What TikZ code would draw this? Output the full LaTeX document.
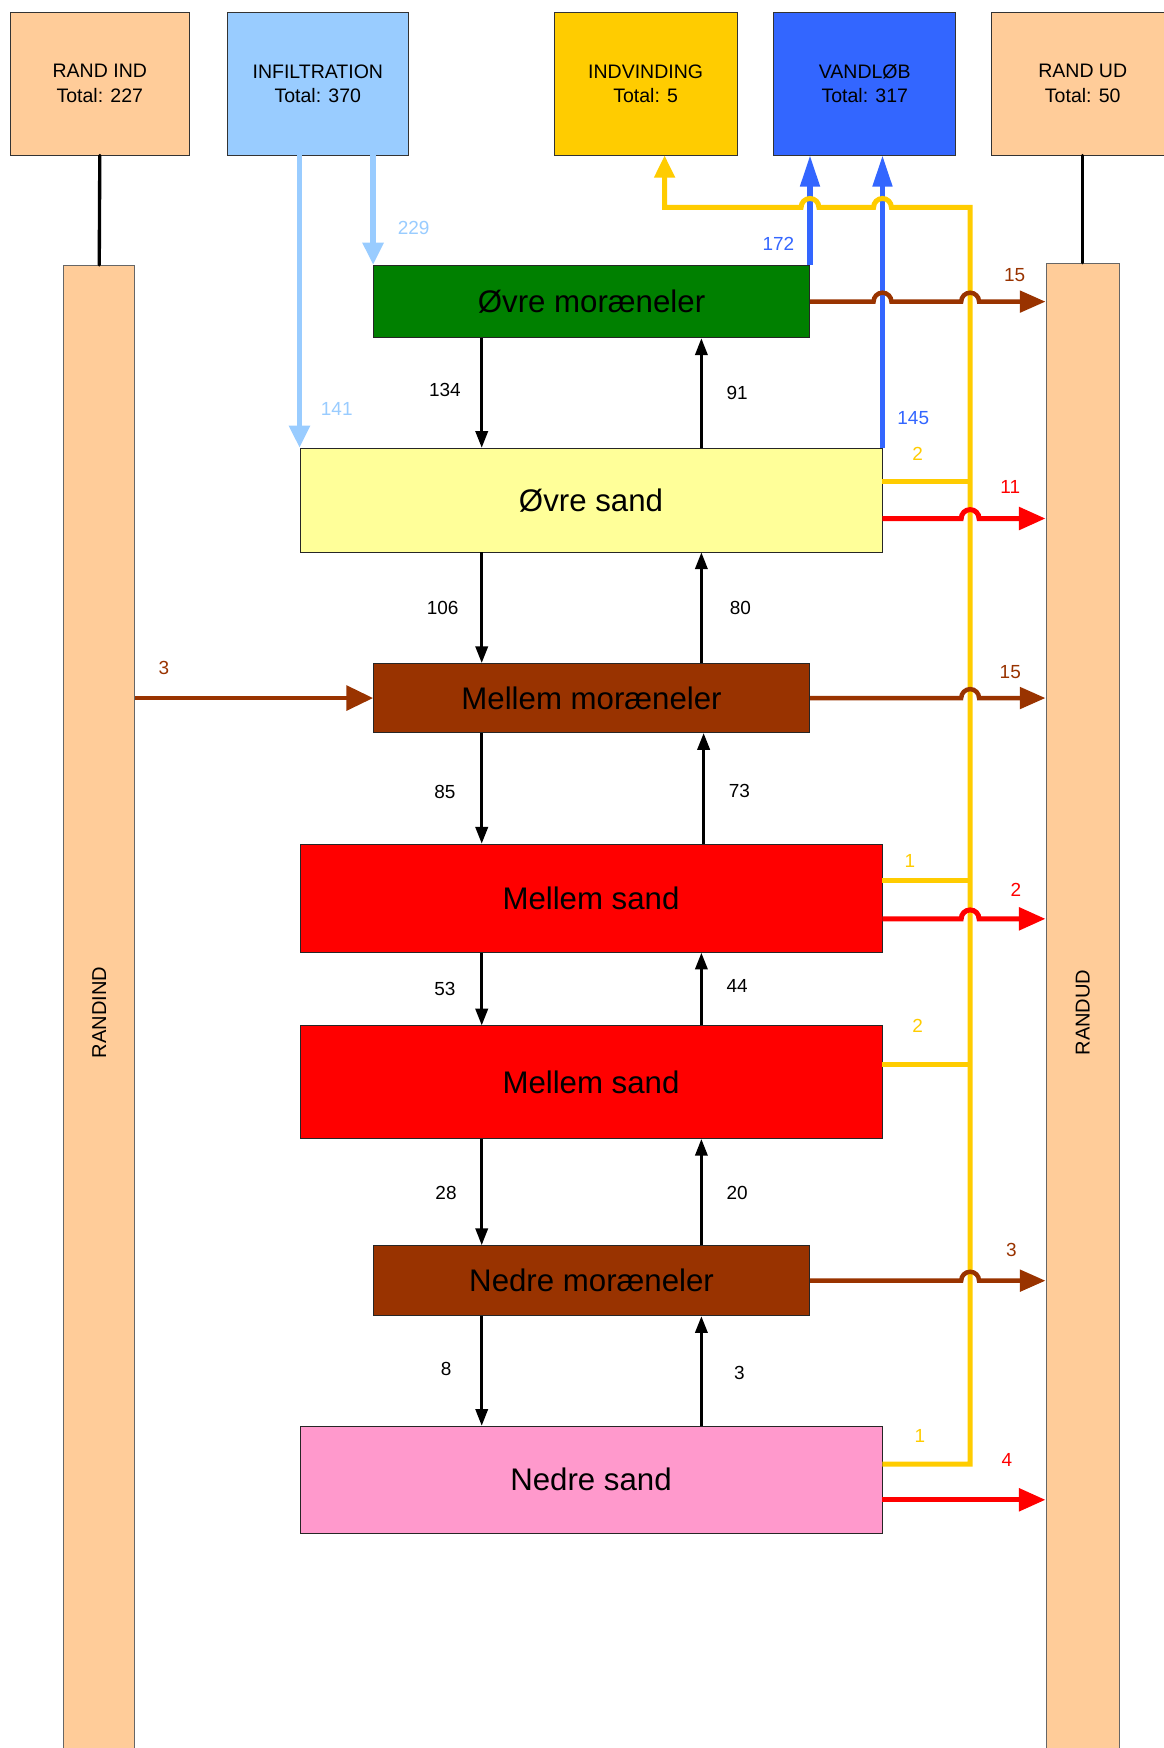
\documentclass[tikz,border=0pt]{standalone}
\usepackage{fontspec}
\setmainfont{Liberation Sans}
\usepackage{graphicx}
\usetikzlibrary{arrows.meta}
\definecolor{cpeach}{HTML}{FFCC99}
\definecolor{clblue}{HTML}{99CCFF}
\definecolor{cgold}{HTML}{FFCC00}
\definecolor{cblue}{HTML}{3366FF}
\definecolor{cgreen}{HTML}{008000}
\definecolor{cpale}{HTML}{FFFF99}
\definecolor{cbrown}{HTML}{993300}
\definecolor{cred}{HTML}{FF0000}
\definecolor{cpink}{HTML}{FF99CC}
\begin{document}
\begin{tikzpicture}[x=1pt,y=-1pt,
  topbox/.style={draw=black!80, line width=0.8pt, inner sep=0pt, minimum height=128pt, align=center, font=\fontsize{17.5}{22}\selectfont},
  bar/.style={draw=black!60, line width=0.8pt, fill=cpeach, inner sep=0pt, font=\fontsize{18}{20}\selectfont},
  lay/.style={draw=black!85, line width=0.8pt, inner sep=0pt, font=\fontsize{28}{32}\selectfont},
  num/.style={font=\fontsize{17}{19}\selectfont, inner sep=0pt},
  blk/.style={line width=2.5pt, -{Triangle[length=15pt,width=11pt]}},
  lbl/.style={draw=clblue, line width=5pt, -{Triangle[length=20pt,width=18pt]}},
  bll/.style={draw=cblue, line width=4.5pt, -{Triangle[length=28pt,width=17pt]}},
  yll/.style={draw=cgold, line width=4.5pt, line join=miter},
  brl/.style={draw=cbrown, line width=4pt, -{Triangle[length=23pt,width=19pt]}},
  rdl/.style={draw=cred, line width=4.5pt, -{Triangle[length=24pt,width=20pt]}},
  conn/.style={line width=3pt, line cap=round}
]
\useasboundingbox (0,0) rectangle (1043,1567.6);
\fill[white] (0,0) rectangle (1043,1567.6);

% top boxes
\node[topbox, fill=cpeach, minimum width=161pt] (ri) at (89.5,75) {RAND IND\\Total: 227};
\node[topbox, fill=clblue, minimum width=162pt] (inf) at (285,75) {INFILTRATION\\Total: 370};
\node[topbox, fill=cgold, minimum width=164pt] (ind) at (579,75) {INDVINDING\\Total: 5};
\node[topbox, fill=cblue, minimum width=163pt] (van) at (775.5,75) {VANDLØB\\Total: 317};
\node[topbox, fill=cpeach, minimum width=164pt] (ru) at (971,75) {RAND UD\\Total: 50};

% side bars
\node[bar, minimum width=64pt, minimum height=1340pt] (rin) at (89,908) {\rotatebox{90}{RANDIND}};
\node[bar, minimum width=66pt, minimum height=1344pt] (rud) at (971,908) {\rotatebox{90}{RANDUD}};
\draw[conn] (ri.south) -- (rin.north);
\draw[conn] (ru.south) -- (rud.north);

% layers
\node[lay, fill=cgreen, minimum width=391pt, minimum height=65pt] (om) at (530.5,270.5) {Øvre moræneler};
\node[lay, fill=cpale, minimum width=522pt, minimum height=93pt] (os) at (530,448.5) {Øvre sand};
\node[lay, fill=cbrown, minimum width=391pt, minimum height=62pt] (mm) at (530.5,626) {Mellem moræneler};
\node[lay, fill=cred, minimum width=522pt, minimum height=97pt] (ms1) at (530,805.5) {Mellem sand};
\node[lay, fill=cred, minimum width=522pt, minimum height=101pt] (ms2) at (530,970.5) {Mellem sand};
\node[lay, fill=cbrown, minimum width=391pt, minimum height=63pt] (nm) at (530.5,1148.5) {Nedre moræneler};
\node[lay, fill=cpink, minimum width=522pt, minimum height=96pt] (ns) at (530,1327) {Nedre sand};

% helper coordinates
\coordinate (dn) at (432,0);
\coordinate (up) at (629,0);
\coordinate (up2) at (631,0);
\coordinate (yt) at (870,186);

% vertical exchange arrows
\draw[blk] (dn |- om.south) -- (dn |- os.north);
\draw[blk] (up |- os.north) -- (up |- om.south);
\draw[blk] (dn |- os.south) -- (dn |- mm.north);
\draw[blk] (up |- mm.north) -- (up |- os.south);
\draw[blk] (dn |- mm.south) -- (dn |- ms1.north);
\draw[blk] (up2 |- ms1.north) -- (up2 |- mm.south);
\draw[blk] (dn |- ms1.south) -- (dn |- ms2.north);
\draw[blk] (up |- ms2.north) -- (up |- ms1.south);
\draw[blk] (dn |- ms2.south) -- (dn |- nm.north);
\draw[blk] (up |- nm.north) -- (up |- ms2.south);
\draw[blk] (dn |- nm.south) -- (dn |- ns.north);
\draw[blk] (up |- ns.north) -- (up |- nm.south);

% infiltration
\draw[lbl] (inf.south -| os.north west) -- (os.north west);
\draw[lbl] (inf.south -| om.north west) -- (om.north west);

% vandloeb
\draw[bll] (om.north east) -- (van.south -| om.north east);
\draw[bll] (os.north east) -- (van.south -| os.north east);

% indvinding (yellow)
\coordinate (yb1) at ([yshift=16.5pt]os.east);
\coordinate (yb2) at ([yshift=15.5pt]ms1.east);
\coordinate (yb3) at ([yshift=15.5pt]ms2.east);
\coordinate (yb4) at ([yshift=14pt]ns.east);
\coordinate (hb1) at (om.north east |- yt);
\coordinate (hb2) at (os.north east |- yt);
\coordinate (indr) at ([xshift=17pt]ind.south);
\draw[yll] (yb1) -- (yb1 -| yt);
\draw[yll] (yb2) -- (yb2 -| yt);
\draw[yll] (yb3) -- (yb3 -| yt);
\draw[yll, -{Triangle[length=20pt,width=18pt]}] (yb4) -- (yb4 -| yt) -- (yt)
  -- ([xshift=8pt]hb2) arc[start angle=0,end angle=180,radius=8pt]
  -- ([xshift=8pt]hb1) arc[start angle=0,end angle=180,radius=8pt]
  -- (indr |- yt) -- (indr);

% brown outflows
\coordinate (c1) at (os.north east |- om.east);
\coordinate (c2) at (yt |- om.east);
\coordinate (c3) at (yt |- mm.east);
\coordinate (c4) at (yt |- nm.east);
\draw[brl] (om.east) -- ([xshift=-8pt]c1) arc[start angle=180,end angle=0,radius=8pt]
  -- ([xshift=-8pt]c2) arc[start angle=180,end angle=0,radius=8pt] -- (rud.west |- om.east);
\draw[brl] (mm.east) -- ([xshift=-8pt]c3) arc[start angle=180,end angle=0,radius=8pt] -- (rud.west |- mm.east);
\draw[brl] (nm.east) -- ([xshift=-8pt]c4) arc[start angle=180,end angle=0,radius=8pt] -- (rud.west |- nm.east);
\draw[brl, -{Triangle[length=24pt,width=22pt]}] (rin.east |- mm.west) -- (mm.west);

% red outflows
\coordinate (r1) at ([yshift=-16.5pt]os.east);
\coordinate (r2) at ([yshift=-18.5pt]ms1.east);
\coordinate (r3) at ([yshift=-18pt]ns.east);
\coordinate (r1x) at (r1 -| yt);
\coordinate (r2x) at (r2 -| yt);
\draw[rdl] (r1) -- ([xshift=-8pt]r1x) arc[start angle=180,end angle=0,radius=8pt] -- (r1 -| rud.west);
\draw[rdl] (r2) -- ([xshift=-8pt]r2x) arc[start angle=180,end angle=0,radius=8pt] -- (r2 -| rud.west);
\draw[rdl] (r3) -- (r3 -| rud.west);

% labels
\node[num, text=clblue] (l1) at (371,204) {229};
\node[num, text=clblue] (l2) at (302,367) {141};
\node[num, text=cblue] (l3) at (698,219) {172};
\node[num, text=cblue] (l4) at (819,375) {145};
\node[num, text=cbrown] (l5) at (910,247) {15};
\node[num, text=cgold] (l6) at (823,407) {2};
\node[num, text=cred] (l7) at (906,437) {11};
\node[num] (l8) at (399,350) {134};
\node[num] (l9) at (661,352) {91};
\node[num] (l10) at (397,545) {106};
\node[num] (l11) at (664,545) {80};
\node[num, text=cbrown] (l12) at (147,599) {3};
\node[num, text=cbrown] (l13) at (906,603) {15};
\node[num] (l14) at (399,710) {85};
\node[num] (l15) at (663,709) {73};
\node[num, text=cgold] (l16) at (816,772) {1};
\node[num, text=cred] (l17) at (911,798) {2};
\node[num] (l18) at (399,887) {53};
\node[num] (l19) at (661,884) {44};
\node[num, text=cgold] (l20) at (823,920) {2};
\node[num] (l21) at (400,1070) {28};
\node[num] (l22) at (661,1070) {20};
\node[num, text=cbrown] (l23) at (907,1121) {3};
\node[num] (l24) at (400,1228) {8};
\node[num] (l25) at (663,1231) {3};
\node[num, text=cgold] (l26) at (825,1288) {1};
\node[num, text=cred] (l27) at (903,1309) {4};
\end{tikzpicture}
\end{document}
